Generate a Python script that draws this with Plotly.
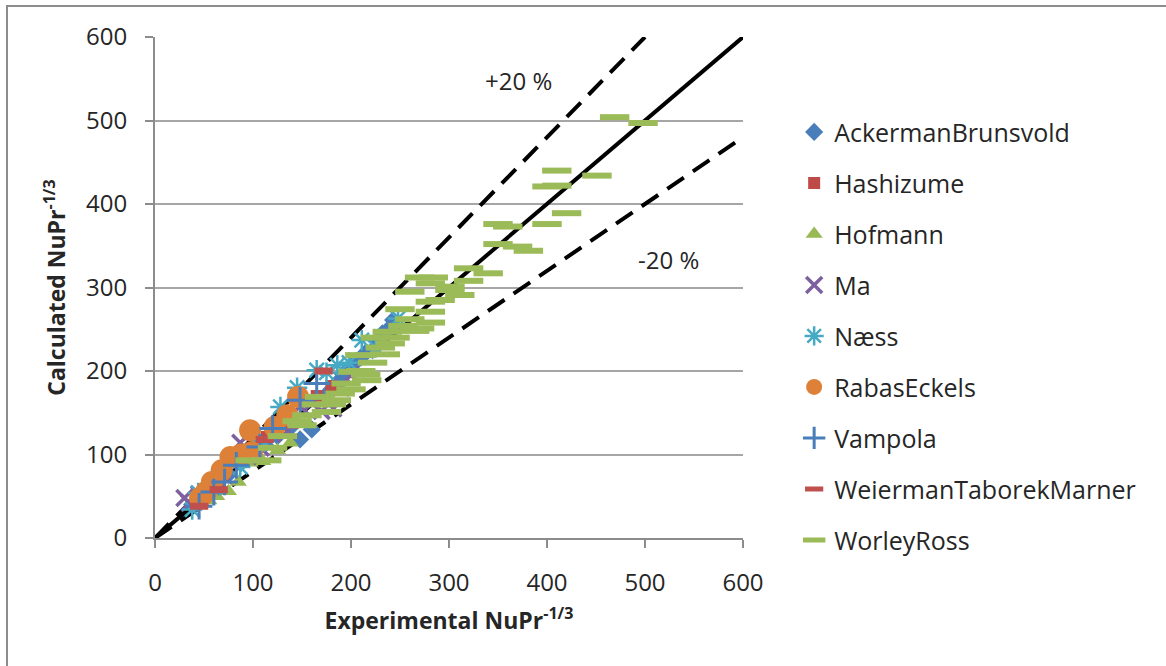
import plotly.graph_objects as go

# Experimental vs calculated NuPr^-1/3 for each data source
ackerman_x = [38, 50, 62, 75, 88, 100, 112, 125, 138, 148, 160, 172, 180, 185, 192, 195,
              200, 205, 210, 215, 222, 228, 232, 238, 243]
ackerman_y = [40, 50, 62, 76, 90, 102, 112, 122, 132, 118, 130, 168, 178, 185, 196, 198,
              205, 212, 216, 222, 225, 236, 245, 250, 261]

hashizume_x = [48, 66, 90, 114, 140, 165, 180]
hashizume_y = [42, 60, 95, 121, 138, 170, 182]

hofmann_x = [45, 55, 63, 75, 85, 97, 110, 125, 138]
hofmann_y = [40, 45, 50, 56, 67, 90, 92, 105, 114]

ma_x = [30, 35, 45, 58, 70, 87, 95, 108, 120, 135, 148, 160, 170, 182, 190, 200]
ma_y = [48, 42, 52, 62, 75, 114, 98, 108, 125, 128, 158, 162, 152, 155, 180, 195]

naess_x = [38, 44, 60, 87, 105, 128, 145, 165, 175, 186, 198, 211, 225, 248]
naess_y = [34, 54, 60, 85, 112, 157, 180, 201, 198, 207, 210, 237, 228, 263]

rabas_x = [46, 52, 58, 68, 77, 88, 97, 99, 122, 135, 146]
rabas_y = [48, 55, 67, 81, 97, 100, 129, 103, 133, 147, 169]

vampola_x = [45, 60, 71, 83, 107, 120, 148, 165]
vampola_y = [38, 55, 67, 87, 109, 131, 165, 185]

weierman_x = [45, 65, 112, 172]
weierman_y = [38, 58, 118, 200]

worley_x = [469, 498, 410, 451, 400, 410, 420, 400, 350, 360, 350, 370, 381, 320, 340,
            320, 270, 284, 281, 301, 260, 301, 311, 281, 291, 250, 281, 281, 270,
            97, 114, 120, 155, 175, 168, 189, 202, 209, 216, 222, 237, 240, 253, 230,
            195, 180, 145, 210, 225, 235, 260, 130, 150, 165, 185, 200, 215, 245, 265]
worley_y = [504, 497, 440, 434, 421, 422, 389, 376, 376, 373, 352, 349, 344, 323, 317,
            308, 312, 312, 305, 301, 295, 297, 291, 283, 285, 274, 271, 258, 251,
            93, 93, 108, 147, 151, 169, 173, 199, 219, 189, 210, 247, 233, 254, 228,
            185, 160, 140, 200, 240, 220, 262, 122, 135, 160, 165, 178, 196, 240, 248]

# Reference lines: perfect agreement and +/-20 % bands
ref_x = [0, 600]
ref_y = [0, 600]
plus20_x = [0, 500]
plus20_y = [0, 600]
minus20_x = [0, 600]
minus20_y = [0, 480]

FONT = "Open Sans"
TXT = "#262626"

fig = go.Figure()

for xs, ys, dash in [(ref_x, ref_y, "solid"),
                     (plus20_x, plus20_y, "20px,11px"),
                     (minus20_x, minus20_y, "20px,11px")]:
    fig.add_trace(go.Scatter(x=xs, y=ys, mode="lines", showlegend=False,
                             hoverinfo="skip",
                             line=dict(color="black", width=4, dash=dash)))

series = [
    ("AckermanBrunsvold", ackerman_x, ackerman_y,
     dict(symbol="diamond", size=14, color="#4A7EBB")),
    ("Hashizume", hashizume_x, hashizume_y,
     dict(symbol="square", size=12, color="#BE4B48")),
    ("Hofmann", hofmann_x, hofmann_y,
     dict(symbol="triangle-up", size=15, color="#98B954")),
    ("Ma", ma_x, ma_y,
     dict(symbol="x-thin", size=16, color="#7D60A0",
          line=dict(color="#7D60A0", width=3.5))),
    ("Næss", naess_x, naess_y,
     dict(symbol="asterisk", size=17, color="#46AAC5",
          line=dict(color="#46AAC5", width=2.5))),
    ("RabasEckels", rabas_x, rabas_y,
     dict(symbol="circle", size=22, color="#DD8139")),
    ("Vampola", vampola_x, vampola_y,
     dict(symbol="cross-thin", size=19, color="#4A7EBB",
          line=dict(color="#4A7EBB", width=3))),
    ("WeiermanTaborekMarner", weierman_x, weierman_y,
     dict(symbol="line-ew", size=13, color="#C0504D",
          line=dict(color="#C0504D", width=7))),
    ("WorleyRoss", worley_x, worley_y,
     dict(symbol="line-ew", size=21, color="#9BBB59",
          line=dict(color="#9BBB59", width=6))),
]

for i, (name, xs, ys, mk) in enumerate(series):
    fig.add_trace(go.Scatter(x=xs, y=ys, mode="markers", name=name,
                             legendgroup=f"g{i}", marker=mk))

# Outer chart frame (top and left edges are in view)
px_to_x = lambda p: (p - 155) / 588
px_to_y = lambda p: (538 - p) / 501
fig.add_shape(type="rect", xref="paper", yref="paper",
              x0=px_to_x(7), x1=px_to_x(1169), y0=px_to_y(670), y1=px_to_y(6),
              line=dict(color="#8C8C8C", width=2), layer="below")

fig.add_annotation(x=371, y=548, text="+20 %", showarrow=False,
                   font=dict(family=FONT, size=24, color=TXT))
fig.add_annotation(x=524, y=333, text="-20 %", showarrow=False,
                   font=dict(family=FONT, size=24, color=TXT))

fig.update_layout(
    width=1166, height=666,
    margin=dict(l=155, r=423, t=37, b=128),
    paper_bgcolor="white", plot_bgcolor="white",
    font=dict(family=FONT, color=TXT),
    showlegend=True,
    legend=dict(x=1.087, y=0.856, xanchor="left", yanchor="top",
                font=dict(family=FONT, size=25, color=TXT),
                traceorder="grouped", tracegroupgap=15.5,
                bgcolor="rgba(0,0,0,0)"),
    xaxis=dict(range=[0, 600], tickvals=[0, 100, 200, 300, 400, 500, 600],
               showgrid=False, zeroline=False,
               showline=True, linecolor="#8C8C8C", linewidth=2,
               ticks="outside", ticklen=8, tickcolor="#8C8C8C", tickwidth=2,
               ticklabelstandoff=14,
               tickfont=dict(family=FONT, size=24, color=TXT),
               title=dict(text="<b>Experimental NuPr<sup>-1/3</sup></b>",
                          font=dict(family=FONT, size=23, color=TXT),
                          standoff=16)),
    yaxis=dict(range=[0, 600], tickvals=[0, 100, 200, 300, 400, 500, 600],
               showgrid=True, gridcolor="#A6A6A6", gridwidth=2,
               zeroline=False,
               showline=True, linecolor="#8C8C8C", linewidth=2,
               ticks="outside", ticklen=8, tickcolor="#8C8C8C", tickwidth=2,
               ticklabelstandoff=13,
               tickfont=dict(family=FONT, size=24, color=TXT),
               title=dict(text="<b>Calculated NuPr<sup>-1/3</sup></b>",
                          font=dict(family=FONT, size=23, color=TXT),
                          standoff=14)),
)

fig.write_html("out.html")
